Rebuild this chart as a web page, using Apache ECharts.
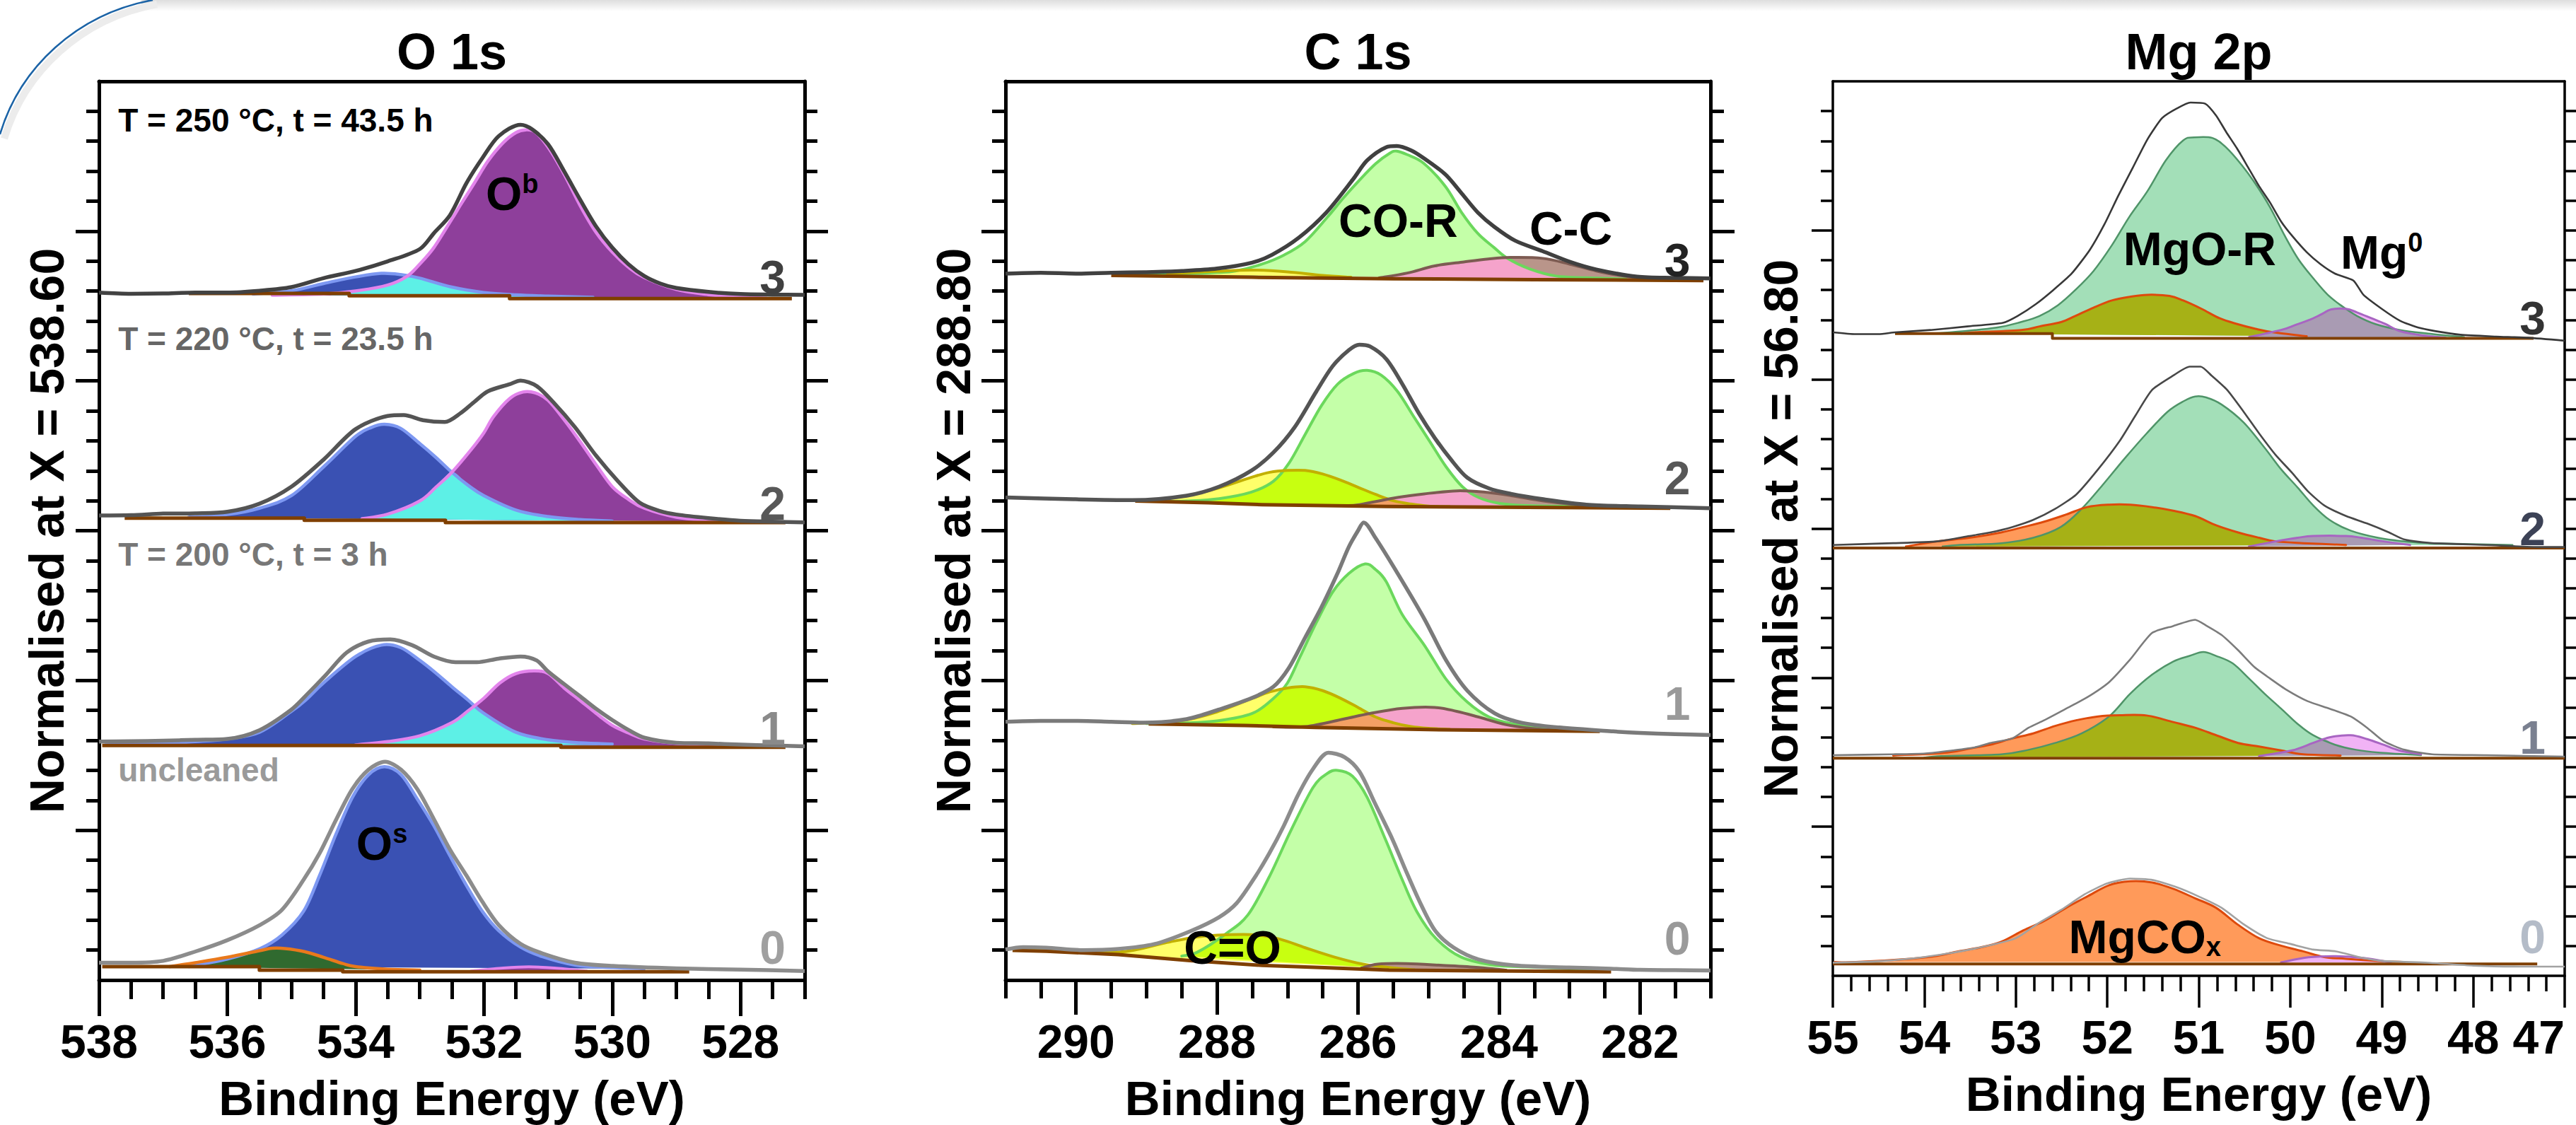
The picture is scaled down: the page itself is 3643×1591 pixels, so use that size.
<!DOCTYPE html>
<html>
<head>
<meta charset="utf-8">
<script src="https://cdn.jsdelivr.net/npm/echarts@6.0.0/dist/echarts.min.js"></script>
<style>
  html, body { margin: 0; padding: 0; background: #fff; }
  #chart { width: 3643px; height: 1591px; }
</style>
</head>
<body>
<div id="chart"></div>
<script>
// ---- tick labels ----
const oTicks = [528, 530, 532, 534, 536, 538];
const cTicks = [282, 284, 286, 288, 290];
const mTicks = [47, 48, 49, 50, 51, 52, 53, 54, 55];
const yTicks = [5, 10, 15, 20, 25];

// ---- O 1s : [binding energy, normalised intensity + offset] ----
const o3Raw = [[538,22.95],[537.5,22.91],[537,22.92],[536.5,22.95],[536,22.95],[535.5,23.01],[535,23.13],[534.5,23.43],[534,23.67],[533.5,23.99],[533,24.4],[532.78,24.93],[532.53,25.53],[532.27,26.61],[532.02,27.45],[531.77,28.17],[531.43,28.55],[531.25,28.4],[531,27.9],[530.75,27.0],[530.5,26.05],[530.25,25.15],[530,24.45],[529.75,23.9],[529.5,23.5],[529.25,23.25],[529,23.1],[528.5,22.97],[528,22.9],[527.5,22.88],[527,22.87]];
const o3Blue = [[535.6,22.9],[535,23.01],[534.5,23.25],[534,23.47],[533.6,23.59],[533.3,23.55],[533,23.43],[532.5,23.13],[532,22.95],[531.5,22.87],[531,22.83],[530.3,22.79]];
const o3Purple = [[535.3,22.86],[534.5,22.9],[534,23.0],[533.5,23.2],[533.2,23.49],[533,23.9],[532.78,24.45],[532.5,25.4],[532.36,25.89],[532.15,26.6],[531.94,27.33],[531.7,27.95],[531.5,28.29],[531.35,28.38],[531.2,28.3],[531,27.8],[530.75,26.9],[530.5,25.85],[530.25,24.95],[530,24.3],[529.75,23.8],[529.5,23.45],[529,23.05],[528.5,22.88],[528,22.8],[527.6,22.76]];
const o3Cyan = [[534.4,22.86],[534,23.0],[533.5,23.2],[533.2,23.49],[533,23.43],[532.5,23.13],[532,22.95],[531.5,22.87],[531,22.82],[530.6,22.78]];
const o3Base = [[536.6,22.92],[534.1,22.92],[534.1,22.84],[531.6,22.84],[531.6,22.75],[527.2,22.75]];

const o2Raw = [[538,15.51],[537.5,15.52],[537,15.57],[536.5,15.58],[536,15.63],[535.5,15.9],[535,16.47],[534.5,17.37],[534,18.39],[533.5,18.83],[533.25,18.86],[532.95,18.69],[532.61,18.63],[532.36,18.93],[532.15,19.3],[531.94,19.65],[531.6,19.89],[531.43,20.01],[531.18,19.83],[530.92,19.29],[530.58,18.45],[530.25,17.5],[529.91,16.65],[529.57,15.93],[529.25,15.65],[529,15.54],[528.5,15.42],[528,15.33],[527.5,15.3],[527,15.28]];
const o2Blue = [[536.6,15.45],[536,15.54],[535.5,15.75],[535,16.17],[534.5,17.13],[534,18.15],[533.75,18.45],[533.55,18.55],[533.3,18.42],[533,17.91],[532.75,17.45],[532.5,16.95],[532.25,16.52],[532,16.17],[531.5,15.69],[531,15.47],[530.5,15.37],[530,15.32]];
const o2Purple = [[533.9,15.4],[533.5,15.55],[533,15.99],[532.75,16.45],[532.5,16.95],[532.19,17.73],[532,18.27],[531.85,18.81],[531.6,19.41],[531.39,19.63],[531.2,19.6],[531,19.35],[530.75,18.7],[530.5,17.97],[530.25,17.2],[530,16.47],[529.75,16.05],[529.5,15.75],[529,15.45],[528.5,15.35],[528,15.3]];
const o2Cyan = [[533.9,15.4],[533.5,15.55],[533,15.99],[532.75,16.45],[532.5,16.95],[532.25,16.52],[532,16.17],[531.5,15.69],[531,15.47],[530.5,15.37],[530.1,15.32]];
const o2Base = [[537.6,15.42],[534.8,15.42],[534.8,15.35],[532.6,15.35],[532.6,15.27],[527.3,15.27]];

const o1Raw = [[538,7.96],[537.5,7.97],[537,7.99],[536.5,8.02],[536,8.05],[535.5,8.34],[535,9.03],[534.75,9.55],[534.47,10.17],[534.14,10.93],[533.8,11.3],[533.46,11.37],[533.12,11.18],[532.78,10.8],[532.44,10.61],[532.11,10.61],[531.77,10.73],[531.43,10.8],[531.18,10.67],[531,10.3],[530.75,9.88],[530.5,9.47],[530.25,9.05],[530,8.68],[529.74,8.34],[529.5,8.09],[529,7.92],[528.5,7.9],[528,7.86],[527.5,7.83],[527,7.8]];
const o1Blue = [[537.9,7.85],[537,7.9],[536.5,7.96],[536,8.05],[535.5,8.27],[535,8.97],[534.75,9.4],[534.5,9.92],[534,10.8],[533.6,11.18],[533.3,11.1],[533,10.67],[532.75,10.25],[532.5,9.79],[532.25,9.35],[532,8.9],[531.5,8.27],[531,8.02],[530.5,7.92],[530,7.88]];
const o1Purple = [[534,7.85],[533.5,7.96],[533,8.15],[532.5,8.59],[532.25,8.98],[532,9.41],[531.75,9.92],[531.5,10.23],[531.22,10.32],[531,10.23],[530.75,9.75],[530.5,9.33],[530.25,8.9],[530,8.5],[529.75,8.25],[529.5,8.05],[529,7.9],[528.5,7.83],[528,7.8]];
const o1Cyan = [[533.8,7.85],[533,8.15],[532.5,8.59],[532.25,8.98],[532.12,9.12],[532,8.9],[531.5,8.27],[531,8.02],[530.5,7.92],[530.2,7.85]];
const o1Base = [[537.95,7.83],[530.8,7.83],[530.8,7.77],[527.3,7.77]];

const o0Raw = [[538,0.58],[537.5,0.58],[537,0.64],[536.5,0.95],[536,1.33],[535.49,1.84],[535.15,2.34],[534.81,3.35],[534.56,4.24],[534.3,5.37],[534.05,6.38],[533.8,7.02],[533.54,7.29],[533.29,7.02],[533.04,6.38],[532.78,5.37],[532.53,4.36],[532.27,3.48],[532.02,2.6],[531.77,1.84],[531.43,1.21],[531.09,0.89],[530.58,0.58],[529.99,0.47],[529,0.39],[528,0.35],[527,0.3]];
const o0Blue = [[536.6,0.45],[536,0.7],[535.49,1.05],[535.15,1.5],[534.81,2.3],[534.56,3.5],[534.3,4.9],[534.05,6.1],[533.8,6.85],[533.55,7.12],[533.29,6.85],[533.04,6.05],[532.78,5.15],[532.53,4.15],[532.27,3.15],[532.02,2.28],[531.77,1.65],[531.43,1.1],[531.09,0.78],[530.58,0.5],[529.99,0.42],[529.5,0.38]];
const o0Purple = [[532.2,0.3],[531.7,0.4],[531.3,0.44],[530.9,0.4],[530.4,0.3]];
const o0Green = [[536.9,0.45],[536.5,0.58],[536,0.76],[535.5,0.98],[535.3,1.06],[535.1,1.05],[534.8,0.95],[534.5,0.76],[534.2,0.55],[534,0.45],[533.5,0.36],[533,0.33]];
const o0Base = [[537.95,0.45],[535.5,0.45],[535.5,0.33],[534.2,0.33],[534.2,0.28],[528.8,0.28]];

// ---- C 1s ----
const c3Raw = [[291,23.58],[290.5,23.61],[290,23.58],[289.5,23.61],[289,23.63],[288.5,23.67],[288,23.75],[287.5,23.95],[287.22,24.21],[286.84,24.78],[286.45,25.62],[286.07,26.73],[285.87,27.36],[285.6,27.8],[285.45,27.84],[285.25,27.7],[285.07,27.44],[284.76,26.89],[284.53,26.26],[284.3,25.62],[284.07,25.15],[283.77,24.68],[283.38,24.33],[283.0,23.98],[282.62,23.72],[282.04,23.48],[281.5,23.44],[281,23.42]];
const c3Green = [[289.2,23.55],[288.5,23.58],[288,23.62],[287.74,23.67],[287.36,23.9],[287.05,24.2],[286.75,24.65],[286.44,25.45],[286.21,26.1],[285.98,26.7],[285.75,27.25],[285.55,27.6],[285.45,27.67],[285.3,27.55],[285.07,27.27],[284.76,26.49],[284.53,25.62],[284.3,24.92],[284.07,24.45],[283.88,24.09],[283.57,23.74],[283.19,23.5],[282.6,23.43],[282.2,23.4]];
const c3Yellow = [[288.7,23.58],[288,23.66],[287.5,23.7],[287,23.64],[286.5,23.52],[286.1,23.46]];
const c3CC = [[285.7,23.44],[285.3,23.6],[284.91,23.84],[284.5,23.97],[284.15,24.07],[283.84,24.12],[283.38,24.09],[283.0,23.9],[282.62,23.67],[282.23,23.5],[281.9,23.4]];
const c3Pink = [[285.7,23.44],[285.3,23.6],[284.91,23.84],[284.5,23.97],[284.15,24.07],[283.9,24.1],[283.57,23.74],[283.19,23.5],[282.8,23.43]];
const c3Base = [[289.5,23.52],[287.5,23.46],[285.5,23.41],[283.5,23.38],[281.1,23.35]];

const c2Raw = [[291,16.11],[290.04,16.05],[289.2,16.02],[288.43,16.17],[287.97,16.47],[287.51,17.01],[287.2,17.61],[286.9,18.45],[286.59,19.65],[286.36,20.49],[286.13,21.03],[285.98,21.21],[285.83,21.15],[285.6,20.73],[285.37,19.89],[285.14,18.93],[284.91,18.09],[284.68,17.37],[284.45,16.77],[284.14,16.41],[283.83,16.23],[283.37,16.05],[282.76,15.87],[281.99,15.81],[281,15.75]];
const c2Green = [[288.8,15.97],[288.43,15.99],[287.97,16.07],[287.51,16.29],[287.2,16.65],[286.98,17.25],[286.75,18.21],[286.52,19.17],[286.29,19.89],[286.06,20.25],[285.87,20.35],[285.67,20.19],[285.44,19.65],[285.21,18.81],[284.98,17.97],[284.75,17.13],[284.52,16.47],[284.29,16.11],[283.99,15.91],[283.53,15.83],[282.76,15.81],[281.99,15.79]];
const c2Yellow = [[289.1,15.99],[288.5,16.14],[288,16.41],[287.5,16.79],[287.25,16.95],[287,17.01],[286.75,17.01],[286.5,16.89],[286.25,16.69],[286,16.45],[285.75,16.21],[285.5,16.0],[285.25,15.89],[285,15.82],[284.7,15.8]];
const c2Chart = [[288.8,15.97],[288.43,15.99],[287.97,16.07],[287.51,16.29],[287.2,16.65],[287.05,17.0],[286.75,17.01],[286.5,16.89],[286.25,16.69],[286,16.45],[285.75,16.21],[285.5,16.0],[285.25,15.89],[285,15.82],[284.7,15.8]];
const c2CC = [[286.2,15.84],[285.98,15.87],[285.44,16.11],[285.06,16.23],[284.6,16.33],[284.22,16.29],[283.83,16.17],[283.37,15.99],[282.91,15.87],[282.38,15.79]];
const c2Pink = [[286.2,15.84],[285.98,15.87],[285.44,16.11],[285.06,16.23],[284.6,16.33],[284.45,16.34],[284.29,16.11],[283.99,15.91],[283.53,15.83],[283.2,15.81]];
const c2Orange = [[286.1,15.84],[285.98,15.87],[285.7,16.0],[285.55,16.04],[285.25,15.89],[285.0,15.82],[284.8,15.8]];
const c2Base = [[289.16,15.99],[288.12,15.93],[287.36,15.87],[285.6,15.81],[281.57,15.75]];

const c1Raw = [[291,8.62],[290.5,8.65],[290,8.65],[289.5,8.62],[289.04,8.59],[288.43,8.71],[287.97,9.03],[287.51,9.41],[287.2,9.79],[286.98,10.42],[286.75,11.43],[286.52,12.44],[286.29,13.58],[286.13,14.46],[286.0,15.0],[285.92,15.27],[285.75,14.75],[285.44,13.58],[285.06,12.06],[284.75,10.67],[284.45,9.66],[284.06,8.9],[283.68,8.59],[283.14,8.43],[282.38,8.3],[282,8.25],[281.5,8.21],[281,8.18]];
const c1Green = [[289.0,8.56],[288.5,8.58],[288,8.65],[287.5,8.9],[287.2,9.4],[287.0,9.92],[286.82,10.8],[286.59,11.94],[286.36,12.95],[286.13,13.57],[285.9,13.89],[285.75,13.7],[285.6,13.3],[285.37,12.19],[285.06,11.18],[284.75,10.04],[284.45,9.28],[284.14,8.78],[283.8,8.55],[283.3,8.42],[282.6,8.32]];
const c1Yellow = [[289.2,8.56],[288.5,8.66],[288,8.95],[287.5,9.4],[287.25,9.62],[287,9.75],[286.75,9.79],[286.5,9.66],[286.25,9.41],[286,9.1],[285.75,8.78],[285.5,8.59],[285.25,8.46],[285,8.4],[284.7,8.37]];
const c1Chart = [[289.0,8.56],[288.5,8.58],[288,8.65],[287.5,8.9],[287.2,9.4],[287.05,9.74],[286.75,9.79],[286.5,9.66],[286.25,9.41],[286,9.1],[285.75,8.78],[285.5,8.59],[285.25,8.46],[285,8.4],[284.7,8.37]];
const c1CC = [[287.2,8.45],[286.74,8.46],[286.21,8.71],[285.83,8.9],[285.37,9.07],[284.91,9.1],[284.6,8.97],[284.29,8.78],[283.91,8.53],[283.53,8.4],[283.1,8.33]];
const c1Orange = [[287.2,8.45],[286.74,8.46],[286.21,8.71],[285.9,8.85],[285.75,8.78],[285.5,8.59],[285.25,8.46],[285,8.4],[284.7,8.37]];
const c1Base = [[288.97,8.55],[287.6,8.5],[286.6,8.43],[285,8.36],[282.57,8.3]];

const c0Raw = [[291,1.02],[290.75,1.1],[290.42,1.08],[289.9,1.0],[289.4,1.04],[288.89,1.2],[288.38,1.63],[287.97,2.1],[287.72,2.57],[287.46,3.44],[287.26,4.22],[287.05,5.16],[286.85,6.18],[286.64,7.04],[286.42,7.59],[286.19,7.44],[285.98,6.96],[285.77,5.95],[285.51,4.69],[285.31,3.59],[285.1,2.49],[284.9,1.63],[284.64,1.08],[284.29,0.69],[283.78,0.49],[283.01,0.42],[282.41,0.38],[282,0.34],[281.5,0.33],[281,0.32]];
const c0Green = [[288.5,0.8],[288.28,0.93],[287.87,1.55],[287.56,2.18],[287.26,3.44],[286.95,5.0],[286.64,6.42],[286.44,6.89],[286.29,7.0],[286.08,6.81],[285.87,6.1],[285.61,4.69],[285.36,3.28],[285.16,2.26],[284.9,1.4],[284.54,0.77],[284.03,0.49],[283.27,0.42],[282.6,0.3]];
const c0Yellow = [[290.8,1.0],[290.42,1.0],[289.4,0.93],[288.74,1.24],[288.28,1.44],[287.87,1.51],[287.46,1.51],[287.1,1.36],[286.75,1.08],[286.34,0.77],[285.93,0.53],[285.56,0.42],[285.2,0.34]];
const c0Chart = [[288.5,0.8],[288.28,0.93],[287.9,1.5],[287.46,1.51],[287.1,1.36],[286.75,1.08],[286.34,0.77],[285.93,0.53],[285.56,0.42],[285.2,0.34]];
const c0CC = [[285.95,0.4],[285.72,0.53],[285.31,0.55],[284.8,0.49],[284.29,0.42],[283.9,0.33]];
const c0Base = [[290.9,0.99],[290.42,0.96],[289.4,0.85],[288.38,0.65],[287.36,0.49],[286.34,0.4],[285.56,0.33],[282.41,0.28]];

// ---- Mg 2p ----
const m3Raw = [[55,21.58],[54.75,21.52],[54.5,21.52],[54.32,21.58],[53.93,21.66],[53.53,21.78],[53.14,21.9],[52.98,22.13],[52.78,22.53],[52.59,23.0],[52.39,23.55],[52.19,24.35],[52.03,25.21],[51.88,26.16],[51.72,27.11],[51.56,28.06],[51.4,28.77],[51.24,29.09],[51.09,29.29],[50.93,29.25],[50.81,28.85],[50.7,28.3],[50.58,27.74],[50.46,27.11],[50.34,26.48],[50.22,25.93],[50.1,25.3],[49.98,24.82],[49.82,24.27],[49.67,23.87],[49.51,23.55],[49.31,23.32],[49.2,22.84],[49.0,22.37],[48.8,21.97],[48.6,21.74],[48.41,21.62],[48.14,21.5],[47.75,21.44],[47.4,21.4],[47,21.3]];
const m3Mint = [[54.0,21.54],[53.72,21.58],[53.21,21.74],[52.94,21.93],[52.74,22.13],[52.54,22.49],[52.35,23.0],[52.15,23.64],[51.95,24.5],[51.76,25.45],[51.56,26.32],[51.36,27.35],[51.17,28.02],[51.05,28.12],[50.85,28.1],[50.7,27.78],[50.53,27.19],[50.38,26.56],[50.22,25.77],[50.06,24.82],[49.91,24.03],[49.75,23.4],[49.59,22.84],[49.43,22.45],[49.27,22.13],[49.07,21.86],[48.8,21.66],[48.49,21.54],[48.1,21.42]];
const m3Cox = [[53.6,21.54],[53.45,21.58],[52.94,21.66],[52.74,21.78],[52.5,21.93],[52.35,22.13],[52.15,22.41],[51.95,22.65],[51.76,22.77],[51.56,22.84],[51.32,22.8],[51.17,22.65],[50.97,22.37],[50.77,22.05],[50.58,21.86],[50.38,21.7],[50.18,21.58],[49.82,21.45]];
const m3Mg0 = [[50.45,21.42],[50.1,21.66],[49.95,21.82],[49.78,22.01],[49.67,22.17],[49.55,22.35],[49.39,22.37],[49.27,22.25],[49.11,22.05],[48.96,21.86],[48.8,21.62],[48.56,21.48],[48.3,21.4]];
const m3Mg0In = [[50.45,21.42],[50.1,21.66],[49.95,21.82],[49.78,22.01],[49.67,22.17],[49.55,22.35],[49.43,22.4],[49.35,22.3],[49.27,22.13],[49.07,21.86],[48.85,21.68],[48.8,21.62],[48.56,21.48],[48.3,21.4]];
const m3Base = [[54.32,21.54],[52.6,21.54],[52.6,21.38],[47.34,21.38]];

const m2Raw = [[55,14.45],[54.34,14.51],[53.86,14.57],[53.51,14.75],[53.28,14.87],[53.04,15.05],[52.81,15.29],[52.57,15.66],[52.34,16.14],[52.1,16.99],[51.86,17.96],[51.69,18.8],[51.51,19.65],[51.28,20.13],[51.1,20.43],[50.98,20.43],[50.86,20.13],[50.69,19.65],[50.51,18.92],[50.34,18.19],[50.16,17.47],[49.98,16.87],[49.81,16.26],[49.63,15.78],[49.39,15.42],[49.16,15.17],[48.92,14.87],[48.75,14.63],[48.45,14.51],[47.86,14.45],[47.28,14.38],[47,14.38]];
const m2Mint = [[53.8,14.4],[53.63,14.45],[53.16,14.51],[52.81,14.69],[52.51,15.05],[52.28,15.66],[52.04,16.5],[51.81,17.35],[51.57,18.19],[51.34,18.92],[51.16,19.28],[51.04,19.43],[50.92,19.4],[50.75,19.16],[50.51,18.56],[50.28,17.71],[50.1,16.99],[49.92,16.38],[49.75,15.78],[49.57,15.29],[49.34,14.93],[49.04,14.69],[48.75,14.57],[48.45,14.51],[47.57,14.45]];
const m2Cox = [[54.2,14.4],[53.86,14.57],[53.51,14.69],[53.16,14.87],[52.92,15.05],[52.69,15.23],[52.45,15.47],[52.22,15.72],[51.98,15.8],[51.75,15.8],[51.51,15.72],[51.28,15.6],[51.04,15.42],[50.81,15.11],[50.57,14.87],[50.34,14.69],[50.16,14.57],[49.86,14.51],[49.39,14.45]];
const m2CoxIn = [[53.8,14.4],[53.63,14.45],[53.16,14.51],[52.81,14.69],[52.51,15.05],[52.25,15.68],[51.98,15.8],[51.75,15.8],[51.51,15.72],[51.28,15.6],[51.04,15.42],[50.81,15.11],[50.57,14.87],[50.34,14.69],[50.16,14.57],[49.86,14.51],[49.39,14.45]];
const m2Mg0 = [[50.45,14.4],[50.16,14.57],[49.92,14.69],[49.75,14.75],[49.39,14.75],[49.22,14.69],[48.98,14.57],[48.69,14.45]];
const m2Base = [[55,14.35],[47,14.35]];

const m1Raw = [[55,7.4],[54.34,7.43],[53.98,7.46],[53.69,7.56],[53.45,7.66],[53.28,7.81],[53.04,7.96],[52.86,8.32],[52.69,8.57],[52.45,8.96],[52.22,9.34],[51.98,9.85],[51.75,10.61],[51.51,11.5],[51.28,11.73],[51.04,11.94],[50.92,11.75],[50.75,11.43],[50.57,10.92],[50.39,10.35],[50.22,9.97],[50.04,9.59],[49.81,9.21],[49.57,8.96],[49.34,8.7],[49.16,8.32],[48.98,7.87],[48.75,7.58],[48.45,7.43],[47.86,7.4],[47,7.35]];
const m1Mint = [[54.0,7.32],[53.81,7.37],[53.16,7.43],[52.86,7.58],[52.57,7.81],[52.28,8.13],[51.98,8.7],[51.75,9.46],[51.51,10.1],[51.28,10.54],[51.1,10.73],[50.95,10.86],[50.81,10.73],[50.63,10.48],[50.45,9.97],[50.28,9.46],[50.1,8.96],[49.92,8.45],[49.75,8.07],[49.51,7.75],[49.28,7.58],[49.04,7.49],[48.57,7.4]];
const m1Cox = [[54.34,7.39],[53.75,7.49],[53.51,7.62],[53.28,7.75],[53.04,7.96],[52.81,8.13],[52.57,8.38],[52.34,8.57],[52.1,8.7],[51.86,8.74],[51.57,8.73],[51.28,8.51],[51.04,8.32],[50.81,8.07],[50.57,7.81],[50.34,7.69],[50.1,7.56],[49.86,7.43],[49.45,7.39]];
const m1CoxIn = [[54.0,7.32],[53.81,7.37],[53.16,7.43],[52.86,7.58],[52.57,7.81],[52.28,8.13],[51.97,8.71],[51.86,8.74],[51.57,8.73],[51.28,8.51],[51.04,8.32],[50.81,8.07],[50.57,7.81],[50.34,7.69],[50.1,7.56],[49.86,7.43],[49.45,7.39]];
const m1Mg0 = [[50.34,7.37],[49.98,7.56],[49.75,7.81],[49.57,8.0],[49.34,8.07],[49.16,7.94],[48.98,7.75],[48.81,7.56],[48.57,7.43]];
const m1Mg0In = [[50.34,7.37],[49.98,7.56],[49.75,7.81],[49.62,7.92],[49.51,7.75],[49.28,7.58],[49.04,7.49],[48.57,7.4]];
const m1Base = [[55,7.3],[47,7.3]];

const m0Raw = [[55,0.44],[54.5,0.49],[54,0.63],[53.5,0.88],[53.0,1.26],[52.75,1.77],[52.5,2.22],[52.25,2.73],[52.0,3.1],[51.75,3.26],[51.5,3.21],[51.25,2.98],[51.0,2.66],[50.75,2.28],[50.5,1.71],[50.25,1.26],[50.0,1.07],[49.75,0.88],[49.5,0.82],[49.25,0.63],[49.0,0.5],[48.5,0.44],[48,0.34],[47.5,0.31],[47,0.31]];
const m0Cox = [[54.98,0.46],[54.75,0.46],[54.16,0.57],[53.86,0.67],[53.63,0.82],[53.39,0.95],[53.16,1.14],[52.92,1.52],[52.69,1.84],[52.45,2.28],[52.22,2.66],[51.98,3.04],[51.75,3.17],[51.51,3.13],[51.28,2.92],[51.04,2.6],[50.81,2.28],[50.57,1.71],[50.34,1.26],[50.1,1.01],[49.86,0.82],[49.63,0.63],[49.39,0.57],[49.04,0.5],[48.75,0.46]];
const m0Mg0 = [[50.1,0.45],[49.8,0.62],[49.5,0.66],[49.2,0.6],[48.9,0.45]];
const m0Base = [[55,0.4],[47.3,0.4]];

// ---- styles ----
const FF = '"Liberation Sans", Arial, Helvetica, sans-serif';
const BROWN = '#7f3f00';
const BLUE = '#3a51b3', BLUE_L = '#7d98f2', PURPLE = '#8e3f9b', PURPLE_L = '#e384ec', CYAN = '#5df0e6', DKGREEN = '#306a2f', ORANGE_L = '#e9791c';
const LGREEN = '#c4ffa8', GREEN_L = '#6bd85c', LYELLOW = '#ffff6a', YELLOW_L = '#c2b000', CHART = '#c8ff10', TAN = '#b9958a', CC_L = '#7d5b52', PINK = '#f5a3cb', ORANGE = '#f3a064';
const MINT = '#a3dfb8', MINT_L = '#4f9468', ORANGEM = '#ff9a5a', COX_L = '#de4a0c', OLIVE = '#a6b116', PINKM = '#f1b3f5', GRAYPURPLE = '#a99bb3', MG0_L = '#a865c2';

function sup(main, small) { return '{m|' + main + '}{s|' + small + '}'; }
const richLabel = {
  m: { fontSize: 66, fontWeight: 'bold', fontFamily: FF, fill: '#000' },
  s: { fontSize: 38, fontWeight: 'bold', fontFamily: FF, fill: '#000', verticalAlign: 'top' },
  b: { fontSize: 38, fontWeight: 'bold', fontFamily: FF, fill: '#000', verticalAlign: 'bottom' }
};

const panels = [
  {
    title: 'O 1s', yname: 'Normalised at X = 538.60',
    left: 140, top: 115, width: 998, height: 1271, xmin: 527, xmax: 538, ticks: oTicks, minorStep: 0.5,
    lw: 5, xMaj: 51, xMin: 27, yMaj: 33, yMin: 18,
    fills: [[o3Blue, BLUE], [o3Purple, PURPLE], [o3Cyan, CYAN],
            [o2Blue, BLUE], [o2Purple, PURPLE], [o2Cyan, CYAN],
            [o1Blue, BLUE], [o1Purple, PURPLE], [o1Cyan, CYAN],
            [o0Blue, BLUE], [o0Purple, PURPLE], [o0Green, DKGREEN]],
    strokes: [[o3Blue, BLUE_L, 4.5], [o3Purple, PURPLE_L, 4.5],
              [o2Blue, BLUE_L, 4.5], [o2Purple, PURPLE_L, 4.5],
              [o1Blue, BLUE_L, 4.5], [o1Purple, PURPLE_L, 4.5],
              [o0Blue, BLUE_L, 4.5], [o0Purple, PURPLE_L, 4], [o0Green, ORANGE_L, 4.5]],
    lines: [[o3Base, BROWN, 5, 0], [o2Base, BROWN, 5, 0], [o1Base, BROWN, 5, 0], [o0Base, BROWN, 5, 0],
            [o3Raw, '#424242', 5.5, 0.3], [o2Raw, '#545454', 5.5, 0.3], [o1Raw, '#7a7a7a', 5.5, 0.3], [o0Raw, '#8c8c8c', 5.5, 0.3]],
    notes: [
      { at: [537.7, 28.7], text: 'T = 250 °C, t = 43.5 h', color: '#000', size: 46, align: 'left' },
      { at: [537.7, 21.4], text: 'T = 220 °C, t = 23.5 h', color: '#666', size: 46, align: 'left' },
      { at: [537.7, 14.22], text: 'T = 200 °C, t = 3 h', color: '#777', size: 46, align: 'left' },
      { at: [537.7, 7.0], text: 'uncleaned', color: '#9a9a9a', size: 46, align: 'left' },
      { at: [531.56, 26.25], text: sup('O', 'b'), rich: true },
      { at: [533.59, 4.55], text: sup('O', 's'), rich: true },
      { at: [527.5, 23.46], text: '3', color: '#404040', size: 66 },
      { at: [527.5, 15.9], text: '2', color: '#585858', size: 66 },
      { at: [527.5, 8.4], text: '1', color: '#8a8a8a', size: 66 },
      { at: [527.5, 1.08], text: '0', color: '#a0a0a0', size: 66 }
    ]
  },
  {
    title: 'C 1s', yname: 'Normalised at X = 288.80',
    left: 1422, top: 115, width: 997, height: 1271, xmin: 281, xmax: 291, ticks: cTicks, minorStep: 0.5,
    lw: 5, xMaj: 49, xMin: 26, yMaj: 34, yMin: 19,
    fills: [[c3Green, LGREEN], [c3Yellow, LYELLOW], [c3CC, TAN], [c3Pink, PINK],
            [c2Green, LGREEN], [c2Yellow, LYELLOW], [c2Chart, CHART], [c2CC, TAN], [c2Pink, PINK], [c2Orange, ORANGE],
            [c1Green, LGREEN], [c1Yellow, LYELLOW], [c1Chart, CHART], [c1CC, PINK], [c1Orange, ORANGE],
            [c0Green, LGREEN], [c0Yellow, LYELLOW], [c0Chart, CHART], [c0CC, TAN]],
    strokes: [[c3Green, GREEN_L, 4], [c3Yellow, YELLOW_L, 4], [c3CC, CC_L, 4],
              [c2Green, GREEN_L, 4], [c2Yellow, YELLOW_L, 4], [c2CC, CC_L, 4],
              [c1Green, GREEN_L, 4], [c1Yellow, YELLOW_L, 4], [c1CC, CC_L, 4],
              [c0Green, GREEN_L, 4], [c0Yellow, YELLOW_L, 4], [c0CC, CC_L, 4]],
    lines: [[c3Base, BROWN, 5, 0], [c2Base, BROWN, 5, 0], [c1Base, BROWN, 5, 0], [c0Base, BROWN, 5, 0],
            [c3Raw, '#404040', 5.5, 0.3], [c2Raw, '#545454', 5.5, 0.3], [c1Raw, '#7a7a7a', 5.5, 0.3], [c0Raw, '#8c8c8c', 5.5, 0.3]],
    notes: [
      { at: [285.43, 25.35], text: '{m|CO-R}', rich: true },
      { at: [282.98, 25.1], text: '{m|C-C}', rich: true },
      { at: [287.78, 1.08], text: '{m|C=O}', rich: true },
      { at: [281.47, 24.03], text: '3', color: '#222', size: 66 },
      { at: [281.47, 16.77], text: '2', color: '#585858', size: 66 },
      { at: [281.47, 9.22], text: '1', color: '#9a9a9a', size: 66 },
      { at: [281.47, 1.4], text: '0', color: '#9a9a9a', size: 66 }
    ]
  },
  {
    title: 'Mg 2p', yname: 'Normalised at X = 56.80',
    left: 2592, top: 115, width: 1035, height: 1265, xmin: 47, xmax: 55, ticks: mTicks, minorSplit: 5,
    lw: 3.5, xMaj: 45, xMin: 22, yMaj: 30, yMin: 17,
    fills: [[m3Mint, MINT], [m3Cox, OLIVE], [m3Mg0, PINKM], [m3Mg0In, GRAYPURPLE],
            [m2Mint, MINT], [m2Cox, ORANGEM], [m2CoxIn, OLIVE], [m2Mg0, GRAYPURPLE],
            [m1Mint, MINT], [m1Cox, ORANGEM], [m1CoxIn, OLIVE], [m1Mg0, PINKM], [m1Mg0In, GRAYPURPLE],
            [m0Cox, ORANGEM], [m0Mg0, PINKM]],
    strokes: [[m3Mint, MINT_L, 2.5], [m3Cox, COX_L, 3], [m3Mg0, MG0_L, 3],
              [m2Mint, MINT_L, 2.5], [m2Cox, COX_L, 3], [m2Mg0, MG0_L, 3],
              [m1Mint, MINT_L, 2.5], [m1Cox, COX_L, 3], [m1Mg0, MG0_L, 3],
              [m0Cox, COX_L, 3], [m0Mg0, MG0_L, 3]],
    lines: [[m3Base, BROWN, 4, 0], [m2Base, BROWN, 4, 0], [m1Base, BROWN, 4, 0], [m0Base, BROWN, 4, 0],
            [m3Raw, '#383838', 2.6, 0.2], [m2Raw, '#484848', 2.6, 0.2], [m1Raw, '#7c7c7c', 2.6, 0.2], [m0Raw, '#a2a2a2', 2.6, 0.2]],
    notes: [
      { at: [50.99, 24.38], text: '{m|MgO-R}', rich: true },
      { at: [49.0, 24.26], text: sup('Mg', '0'), rich: true },
      { at: [51.59, 1.3], text: '{m|MgCO}{b|x}', rich: true },
      { at: [47.35, 22.06], text: '3', color: '#333', size: 66 },
      { at: [47.35, 14.99], text: '2', color: '#3c4256', size: 66 },
      { at: [47.35, 8.0], text: '1', color: '#7a8090', size: 66 },
      { at: [47.35, 1.3], text: '0', color: '#b4bcc8', size: 66 }
    ]
  }
];

// Catmull-Rom spline through pixel points -> SVG path
function curvePath(pts) {
  let d = 'M' + pts[0][0] + ',' + pts[0][1];
  for (let i = 0; i < pts.length - 1; i++) {
    const p0 = pts[i - 1] || pts[i], p1 = pts[i], p2 = pts[i + 1], p3 = pts[i + 2] || p2;
    const c1x = p1[0] + (p2[0] - p0[0]) / 6, c1y = p1[1] + (p2[1] - p0[1]) / 6;
    const c2x = p2[0] - (p3[0] - p1[0]) / 6, c2y = p2[1] - (p3[1] - p1[1]) / 6;
    d += 'C' + c1x + ',' + c1y + ' ' + c2x + ',' + c2y + ' ' + p2[0] + ',' + p2[1];
  }
  return d;
}

function shapeSeries(xi, yi, pts, color, width, closed, z) {
  return {
    type: 'custom', xAxisIndex: xi, yAxisIndex: yi, z: z, silent: true, clip: true,
    data: pts,
    renderItem: function (params, api) {
      if (params.dataIndex !== 0) return null;
      const px = pts.map(function (p) { return api.coord(p); });
      return {
        type: 'path',
        shape: { pathData: curvePath(px) + (closed ? 'Z' : '') },
        style: closed ? { fill: color, stroke: 'none' }
                      : { fill: 'none', stroke: color, lineWidth: width, lineJoin: 'round', lineCap: 'round' }
      };
    }
  };
}

function noteSeries(xi, yi, notes) {
  return {
    type: 'custom', xAxisIndex: xi, yAxisIndex: yi, z: 10, silent: true,
    data: notes.map(function (n) { return n.at; }),
    renderItem: function (params, api) {
      const n = notes[params.dataIndex];
      const p = api.coord(n.at);
      const style = {
        text: n.text, fill: n.color || '#000', fontSize: n.size || 66, fontWeight: 'bold', fontFamily: FF,
        align: n.align || 'center', verticalAlign: 'middle'
      };
      if (n.rich) style.rich = richLabel;
      return { type: 'text', x: p[0], y: p[1], style: style };
    }
  };
}

const grids = [], xAxes = [], yAxes = [], series = [], graphics = [];
const blackLine = function (w) { return { show: true, onZero: false, lineStyle: { color: '#000', width: w } }; };

panels.forEach(function (P) {
  const g = grids.length;
  grids.push({ left: P.left, top: P.top, width: P.width, height: P.height, containLabel: false, outerBoundsMode: 'none' });
  const xi = xAxes.length, yi = yAxes.length;
  const evenOnly = !P.minorSplit;
  xAxes.push({
    gridIndex: g, type: 'value', position: 'bottom', min: P.xmin, max: P.xmax, interval: 1, inverse: true,
    axisLine: blackLine(P.lw),
    axisTick: { show: true, length: P.xMaj, lineStyle: { color: '#000', width: P.lw }, customValues: evenOnly ? P.ticks : undefined },
    minorTick: P.minorSplit ? { show: true, splitNumber: P.minorSplit, length: P.xMin, lineStyle: { color: '#000', width: P.lw } } : { show: false },
    axisLabel: {
      show: true, margin: 54, color: '#000', fontSize: 66, fontWeight: 'bold', fontFamily: FF,
      showMinLabel: true, showMaxLabel: true, hideOverlap: false,
      alignMinLabel: evenOnly ? undefined : 'right',
      customValues: P.ticks,
      formatter: function (v) { return P.ticks.indexOf(Math.round(v * 10) / 10) >= 0 ? String(Math.round(v)) : ''; }
    },
    splitLine: { show: false },
    name: 'Binding Energy (eV)', nameLocation: 'middle', nameGap: 133, nameMoveOverlap: false,
    nameTextStyle: { color: '#000', fontSize: 69, fontWeight: 'bold', fontFamily: FF }
  });
  xAxes.push({
    gridIndex: g, type: 'value', position: 'top', min: P.xmin, max: P.xmax, inverse: true,
    axisLine: blackLine(P.lw), axisTick: { show: false }, axisLabel: { show: false }, splitLine: { show: false }
  });
  const yCommon = {
    gridIndex: g, type: 'value', min: 0, max: 30, interval: 5,
    axisLine: blackLine(P.lw),
    axisTick: { show: true, length: P.yMaj, lineStyle: { color: '#000', width: P.lw }, customValues: yTicks },
    minorTick: { show: true, splitNumber: 5, length: P.yMin, lineStyle: { color: '#000', width: P.lw } },
    axisLabel: { show: false }, splitLine: { show: false }, minorSplitLine: { show: false }
  };
  yAxes.push(Object.assign({}, yCommon, {
    position: 'left', name: P.yname, nameLocation: 'middle', nameGap: 40, nameRotate: 90, nameMoveOverlap: false,
    nameTextStyle: { color: '#000', fontSize: 68, fontWeight: 'bold', fontFamily: FF }
  }));
  yAxes.push(Object.assign({}, yCommon, { position: 'right' }));

  if (P.minorStep) {
    // overlay grid carrying the short 0.5 eV ticks
    const g2 = grids.length;
    grids.push({ left: P.left, top: P.top, width: P.width, height: P.height, containLabel: false, outerBoundsMode: 'none' });
    xAxes.push({
      gridIndex: g2, type: 'value', position: 'bottom', min: P.xmin, max: P.xmax, interval: P.minorStep, inverse: true,
      axisLine: { show: false, onZero: false },
      axisTick: { show: true, length: P.xMin, lineStyle: { color: '#000', width: P.lw } },
      axisLabel: { show: false }, splitLine: { show: false }
    });
    yAxes.push({ gridIndex: g2, type: 'value', min: 0, max: 30, show: false });
  }

  P.fills.forEach(function (f) { series.push(shapeSeries(xi, yi, f[0], f[1], 0, true, 2)); });
  P.strokes.forEach(function (s) { series.push(shapeSeries(xi, yi, s[0], s[1], s[2], false, 3)); });
  P.lines.forEach(function (l) {
    series.push({
      type: 'line', xAxisIndex: xi, yAxisIndex: yi, data: l[0], z: 4, silent: true,
      showSymbol: false, symbol: 'none', smooth: l[3] || false,
      lineStyle: { color: l[1], width: l[2], join: 'round' }
    });
  });
  series.push(noteSeries(xi, yi, P.notes));

  graphics.push({
    type: 'text', x: P.left + P.width / 2, y: 73, z: 10,
    style: { text: P.title, fill: '#000', fontSize: 72, fontWeight: 'bold', fontFamily: FF, align: 'center', verticalAlign: 'middle' }
  });
});

// slide decoration (top band and corner arc)
graphics.push({
  type: 'rect', z: 0, shape: { x: 200, y: 0, width: 3443, height: 16 },
  style: { fill: new echarts.graphic.LinearGradient(0, 0, 0, 1, [{ offset: 0, color: '#dedede' }, { offset: 1, color: '#ffffff' }]) }
});
graphics.push({
  type: 'bezierCurve', z: 0,
  shape: { x1: 6, y1: 196, cpx1: 34, cpy1: 102, cpx2: 114, cpy2: 26, x2: 222, y2: 6 },
  style: { stroke: '#ececec', lineWidth: 10, fill: 'none' }
});
graphics.push({
  type: 'bezierCurve', z: 1,
  shape: { x1: 0, y1: 190, cpx1: 28, cpy1: 96, cpx2: 108, cpy2: 20, x2: 216, y2: 0 },
  style: { stroke: '#1b63a6', lineWidth: 2.5, fill: 'none' }
});

const chart = echarts.init(document.getElementById('chart'), null, { renderer: 'svg' });
chart.setOption({
  animation: false,
  backgroundColor: '#ffffff',
  grid: grids,
  xAxis: xAxes,
  yAxis: yAxes,
  series: series,
  graphic: graphics
});
</script>
</body>
</html>
